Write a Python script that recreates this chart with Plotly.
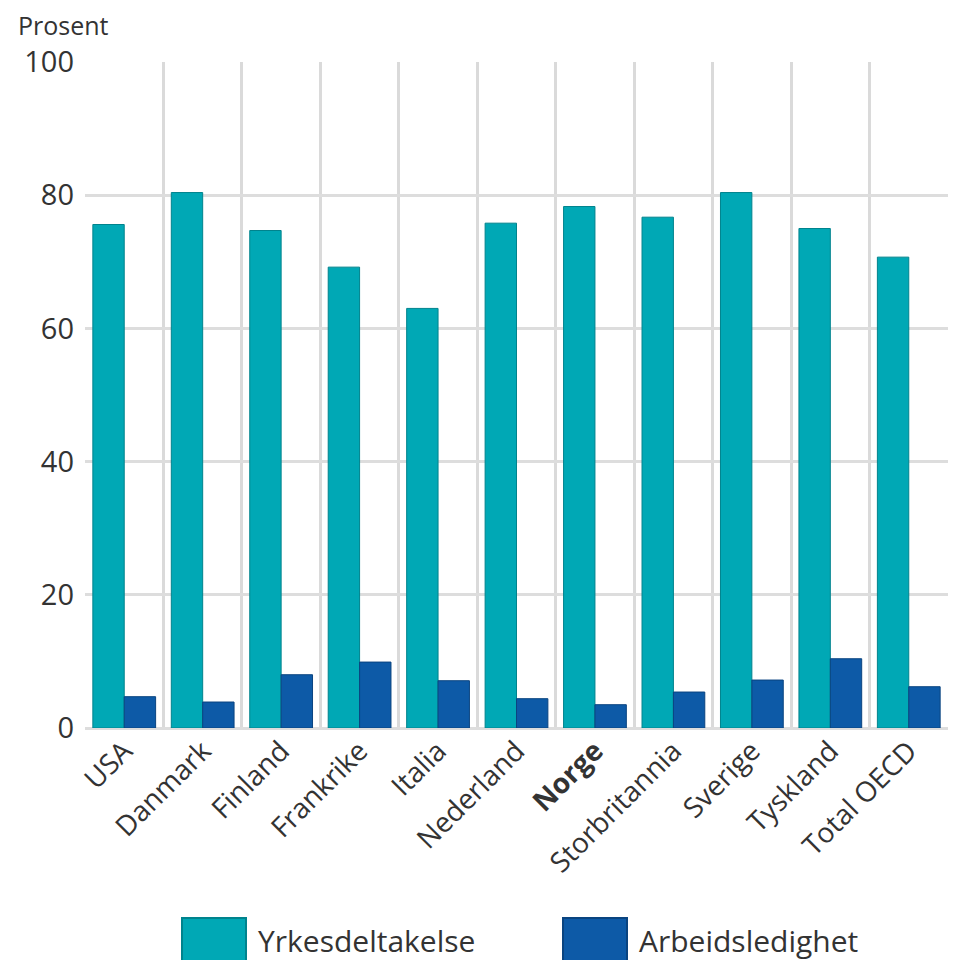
import plotly.graph_objects as go

categories = ["USA", "Danmark", "Finland", "Frankrike", "Italia", "Nederland",
              "Norge", "Storbritannia", "Sverige", "Tyskland", "Total OECD"]
yrkesdeltakelse = [75.6, 80.4, 74.7, 69.2, 63.0, 75.8, 78.3, 76.7, 80.4, 75.0, 70.7]
arbeidsledighet = [4.7, 3.9, 8.0, 9.9, 7.1, 4.4, 3.5, 5.4, 7.2, 10.4, 6.2]
bold_category = "Norge"
y_ticks = [0, 20, 40, 60, 80, 100]

teal = "#00a8b5"
blue = "#0d5aa7"
font_family = "Open Sans, Noto Sans, sans-serif"
text_color = "#333333"

fig = go.Figure()
fig.add_trace(go.Bar(x=categories, y=yrkesdeltakelse, name="Yrkesdeltakelse",
                     marker=dict(color=teal, line=dict(color="#00838d", width=1)),
                     showlegend=False))
fig.add_trace(go.Bar(x=categories, y=arbeidsledighet, name="Arbeidsledighet",
                     marker=dict(color=blue, line=dict(color="#0a4480", width=1)),
                     showlegend=False))

ticktext = [f"<b>{c}</b>" if c == bold_category else c for c in categories]

# page body has an 8px margin; plot area targeted at x 85..948, y 62..728 on screen
fig.update_layout(
    width=971, height=960,
    margin=dict(l=77, r=31, t=54, b=240),
    paper_bgcolor="white", plot_bgcolor="white",
    barmode="group", bargap=0.2, bargroupgap=0,
    font=dict(family=font_family, color=text_color),
    xaxis=dict(tickmode="array", tickvals=categories, ticktext=ticktext,
               tickangle=-45, tickfont=dict(size=28, color=text_color),
               showgrid=True, gridcolor="#dadada", gridwidth=3,
               tickson="boundaries", ticks="", showline=False, zeroline=False),
    yaxis=dict(range=[0, 100], tickvals=y_ticks, ticks="",
               tickfont=dict(size=29, color=text_color),
               showgrid=True, gridcolor="#dddddd", gridwidth=3,
               zeroline=True, zerolinecolor="#dddddd", zerolinewidth=3,
               showline=False, ticklabelstandoff=10),
)

def px_x(X):
    return (X - 85) / 863

def px_y(Y):
    return (728 - Y) / 666

# Axis title "Prosent"
fig.add_annotation(text="Prosent", xref="paper", yref="paper", x=px_x(16), y=px_y(6),
                   xanchor="left", yanchor="top", showarrow=False,
                   font=dict(size=25, color=text_color))

# Custom legend at bottom
legend_items = [("Yrkesdeltakelse", teal, "#00838d", 182), ("Arbeidsledighet", blue, "#0a4480", 563)]
for name, col, edge, x0 in legend_items:
    fig.add_shape(type="rect", xref="paper", yref="paper",
                  x0=px_x(x0), x1=px_x(x0 + 64),
                  y0=px_y(966), y1=px_y(918),
                  fillcolor=col, line=dict(color=edge, width=2), layer="above")
    fig.add_annotation(text=name, xref="paper", yref="paper",
                       x=px_x(x0 + 74), y=px_y(940),
                       xanchor="left", yanchor="middle", showarrow=False,
                       font=dict(size=30, color=text_color))

fig.write_html("out.html")
